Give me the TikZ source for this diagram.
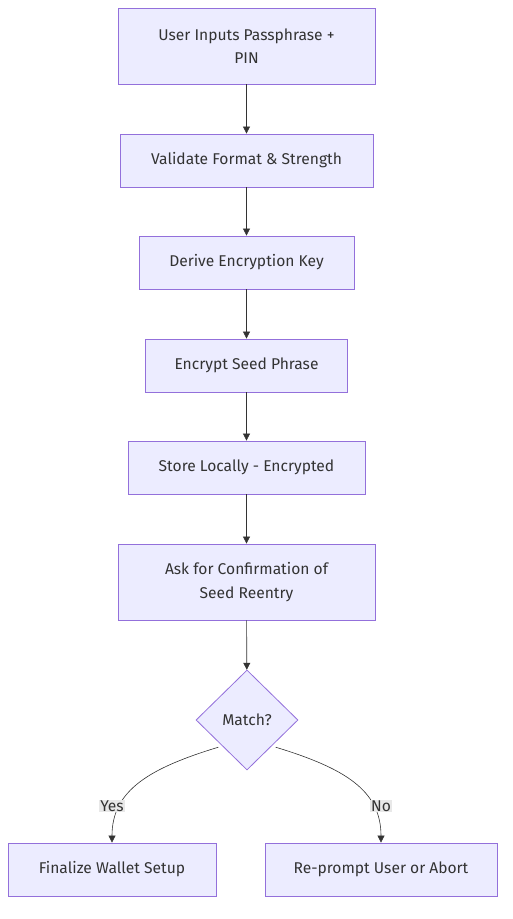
\documentclass[tikz,border=0pt]{standalone}
\usepackage{fontspec}
\setmainfont{Fira Sans}
\usetikzlibrary{arrows.meta,shapes.geometric}
\definecolor{boxfill}{HTML}{ECECFF}
\definecolor{boxline}{HTML}{9370DB}
\definecolor{edgeline}{HTML}{333333}
\definecolor{labelbg}{HTML}{E8E8E8}

\begin{document}
\begin{tikzpicture}[x=1pt, y=-1pt,
    stepbox/.style={draw=boxline, fill=boxfill, line width=0.8pt, align=center,
      inner sep=0pt, font=\fontsize{15.6}{23.5}\selectfont, text=edgeline},
    decision/.style={diamond, draw=boxline, fill=boxfill, line width=0.8pt,
      inner sep=0pt, minimum width=102pt, minimum height=100pt,
      font=\fontsize{15.6}{23.5}\selectfont, text=edgeline},
    flow/.style={draw=edgeline, line width=0.6pt, -{Triangle[length=7pt,width=7pt]}},
    edgelabel/.style={fill=labelbg, inner sep=1pt, font=\fontsize{15.6}{17}\selectfont, text=edgeline}]
  \useasboundingbox (0,0) rectangle (513,919);
  \node[stepbox, minimum width=257pt, minimum height=76pt] (input) at (246.5,46) {User Inputs Passphrase +\\PIN};
  \node[stepbox, minimum width=253pt, minimum height=53pt] (validate) at (246.5,160.5) {Validate Format \& Strength};
  \node[stepbox, minimum width=215pt, minimum height=53pt] (derive) at (246.5,262.5) {Derive Encryption Key};
  \node[stepbox, minimum width=202pt, minimum height=53pt] (encrypt) at (246.5,365.5) {Encrypt Seed Phrase};
  \node[stepbox, minimum width=237pt, minimum height=53pt] (store) at (246.5,467.5) {Store Locally - Encrypted};
  \node[stepbox, minimum width=257pt, minimum height=76pt] (confirm) at (246.5,582) {Ask for Confirmation of\\Seed Reentry};
  \node[decision] (match) at (247,720) {Match?};
  \node[stepbox, minimum width=208pt, minimum height=53pt] (finalize) at (112,869.5) {Finalize Wallet Setup};
  \node[stepbox, minimum width=232pt, minimum height=53pt] (reprompt) at (381,869.5) {Re-prompt User or Abort};

  \draw[flow] (input) -- (validate);
  \draw[flow] (validate) -- (derive);
  \draw[flow] (derive) -- (encrypt);
  \draw[flow] (encrypt) -- (store);
  \draw[flow] (store) -- (confirm);
  \draw[flow] (confirm) -- (match);
  \draw[flow] (match.south west) ++(-3,2) coordinate (yesstart)
    (yesstart) .. controls (150,768) and (112,790) .. (finalize.north);
  \draw[flow] (match.south east) ++(3,2) coordinate (nostart)
    (nostart) .. controls (344,768) and (381,790) .. (reprompt.north);
  \node[edgelabel] (yes) at (112,806) {Yes};
  \node[edgelabel] (no) at (381,806) {No};
\end{tikzpicture}
\end{document}
